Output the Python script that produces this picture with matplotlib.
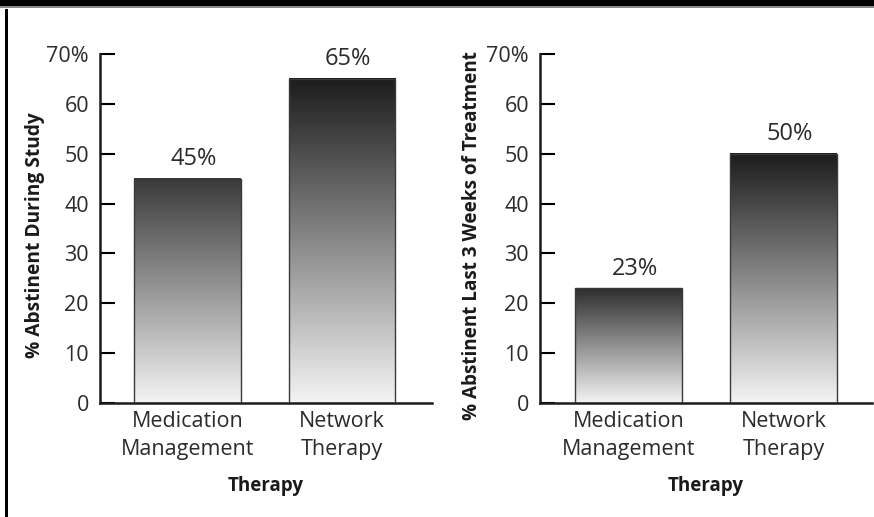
import numpy as np
import matplotlib
matplotlib.use('Agg')
import matplotlib.pyplot as plt
from matplotlib.colors import LinearSegmentedColormap
from matplotlib.patches import Rectangle

plt.rcParams['font.family'] = ['Open Sans', 'DejaVu Sans']

# 数据
categories = ['Medication\nManagement', 'Network\nTherapy']
study_vals = [45, 65]          # % Abstinent During Study
last3_vals = [23, 50]          # % Abstinent Last 3 Weeks of Treatment
ytick_vals = [0, 10, 20, 30, 40, 50, 60, 70]
ytick_labels = ['0', '10', '20', '30', '40', '50', '60', '70%']

W, H = 874, 517
fig = plt.figure(figsize=(W / 100, H / 100), dpi=100)
fig.patch.set_facecolor('white')

# 外框（顶部黑条 + 左侧竖线）
fig.patches.append(Rectangle((0, 1 - 5.5 / H), 1, 5.5 / H, transform=fig.transFigure,
                             facecolor='black', edgecolor='none'))
fig.patches.append(Rectangle((0, 1 - 8 / H), 1, 1.5 / H, transform=fig.transFigure,
                             facecolor='#8a8a8a', edgecolor='none'))
fig.patches.append(Rectangle((5 / W, 0), 2.5 / W, 1 - 9 / H, transform=fig.transFigure,
                             facecolor='black', edgecolor='none'))

txt = '#2b2b2b'


def draw_panel(ax, vals, top_colors, ylabel, ylab_size, ylab_x, xlim):
    x = np.arange(len(vals))
    bw = 0.69
    bars = ax.bar(x, vals, bw, color='none', edgecolor='#3a3a3a', linewidth=1.0, zorder=3)
    grad = np.linspace(0, 1, 256).reshape(-1, 1)
    for b, tc in zip(bars, top_colors):
        cmap = LinearSegmentedColormap.from_list('g', ['#f4f4f4', tc])
        x0 = b.get_x()
        ax.imshow(grad, extent=[x0, x0 + b.get_width(), 0, b.get_height()],
                  origin='lower', aspect='auto', cmap=cmap, zorder=2)
        ax.text(b.get_x() + b.get_width() / 2 + 0.04, b.get_height() + 1.5,
                f'{int(b.get_height())}%', ha='center', va='bottom',
                fontsize=17, color=txt)
    ax.set_xlim(*xlim)
    ax.set_ylim(0, 70)
    ax.set_yticks(ytick_vals)
    ax.set_yticklabels(ytick_labels)
    ax.set_xticks(x)
    ax.set_xticklabels(categories, linespacing=1.4)
    ax.tick_params(axis='y', direction='in', length=11, width=1.5, pad=8,
                   labelsize=15.5, labelcolor=txt)
    ax.tick_params(axis='x', length=0, pad=6, labelsize=15.5, labelcolor=txt)
    for s in ['top', 'right']:
        ax.spines[s].set_visible(False)
    for s in ['left', 'bottom']:
        ax.spines[s].set_linewidth(1.8)
        ax.spines[s].set_color('#1a1a1a')
    ax.set_ylabel(ylabel, fontsize=ylab_size, fontweight='bold', color='#1a1a1a')
    ax.yaxis.set_label_coords(ylab_x, 0.48)
    ax.set_xlabel('Therapy', fontsize=13.5, fontweight='bold', color='#1a1a1a', labelpad=12)


ax1 = fig.add_axes([100 / W, (H - 403) / H, 332 / W, 349 / H])
draw_panel(ax1, study_vals, ['#3a3a3a', '#1c1c1c'], '% Abstinent During Study',
           13.8, -0.165, (-0.566, 1.583))

ax2 = fig.add_axes([540 / W, (H - 403) / H, 332 / W, 349 / H])
draw_panel(ax2, last3_vals, ['#2e2e2e', '#1c1c1c'],
           '% Abstinent Last 3 Weeks of Treatment', 13.6, -0.175, (-0.574, 1.568))

plt.savefig('out.png', dpi=100)
plt.close()
